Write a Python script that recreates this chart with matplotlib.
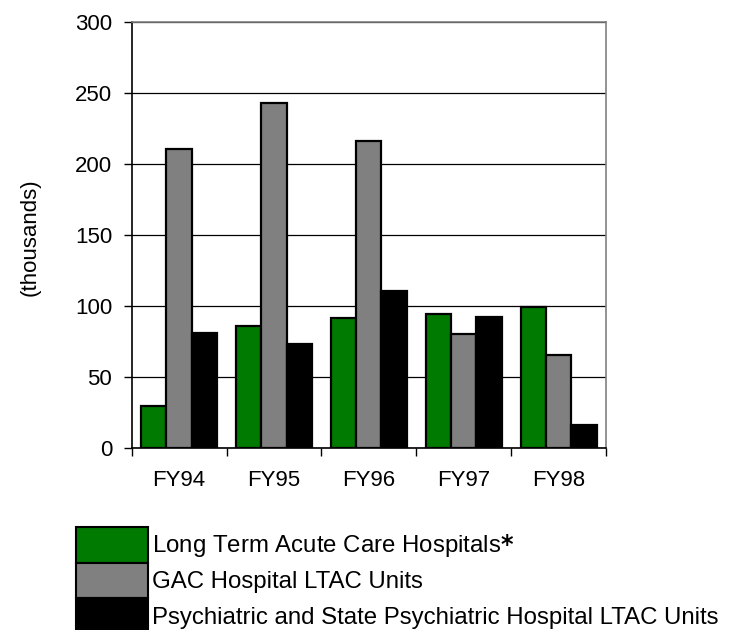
import numpy as np
import matplotlib.pyplot as plt
from matplotlib.patches import Patch

plt.rcParams['font.family'] = ['Liberation Sans', 'DejaVu Sans']

years = ['FY94', 'FY95', 'FY96', 'FY97', 'FY98']
ltac_hospitals = [29, 86, 91, 94, 99]
gac_units = [210, 243, 216, 80, 65]
psych_units = [81, 73, 110, 92, 16]

labels = ['Long Term Acute Care Hospitals$\\bf{*}$',
          'GAC Hospital LTAC Units',
          'Psychiatric and State Psychiatric Hospital LTAC Units']
colors = ['#007a00', '#808080', '#000000']

fig = plt.figure(figsize=(7.29, 6.3), dpi=100)
ax = fig.add_axes([0.1807, 0.2894, 0.6505, 0.6762])

x = np.arange(len(years))
w = 0.267
for i, (vals, c) in enumerate(zip([ltac_hospitals, gac_units, psych_units], colors)):
    ax.bar(x + (i - 1) * w, vals, width=w, color=c, edgecolor='black',
           linewidth=1.6, zorder=3)

ax.set_xlim(-0.5, len(years) - 0.5)
ax.set_ylim(0, 300)
ax.set_yticks(range(0, 301, 50))
ax.yaxis.grid(True, color='black', linewidth=0.9, zorder=0)

# category ticks between groups
ax.set_xticks(np.arange(-0.5, len(years), 1.0))
ax.set_xticklabels([])
ax.set_xticks(x, minor=True)
ax.set_xticklabels(years, minor=True)
ax.tick_params(axis='x', which='minor', length=0, pad=16, labelsize=16)
ax.tick_params(axis='x', which='major', length=6, width=1)
ax.tick_params(axis='y', length=6, width=1, labelsize=16, pad=8)

ax.spines['top'].set_color('#808080')
ax.spines['right'].set_color('#808080')
for s in ax.spines.values():
    s.set_linewidth(1.2)

fig.text(0.041, 0.624, '(thousands)', rotation=90, ha='center', va='center',
         fontsize=16)

handles = [Patch(facecolor=c, edgecolor='black', linewidth=1.5) for c in colors]
fig.legend(handles, labels, loc='upper left', bbox_to_anchor=(0.104, 0.1635),
           frameon=False, fontsize=17.3, handlelength=3.0, handleheight=1.9,
           handletextpad=0.17, labelspacing=0.0, borderpad=0, borderaxespad=0)

fig.savefig('out.png', dpi=100)
